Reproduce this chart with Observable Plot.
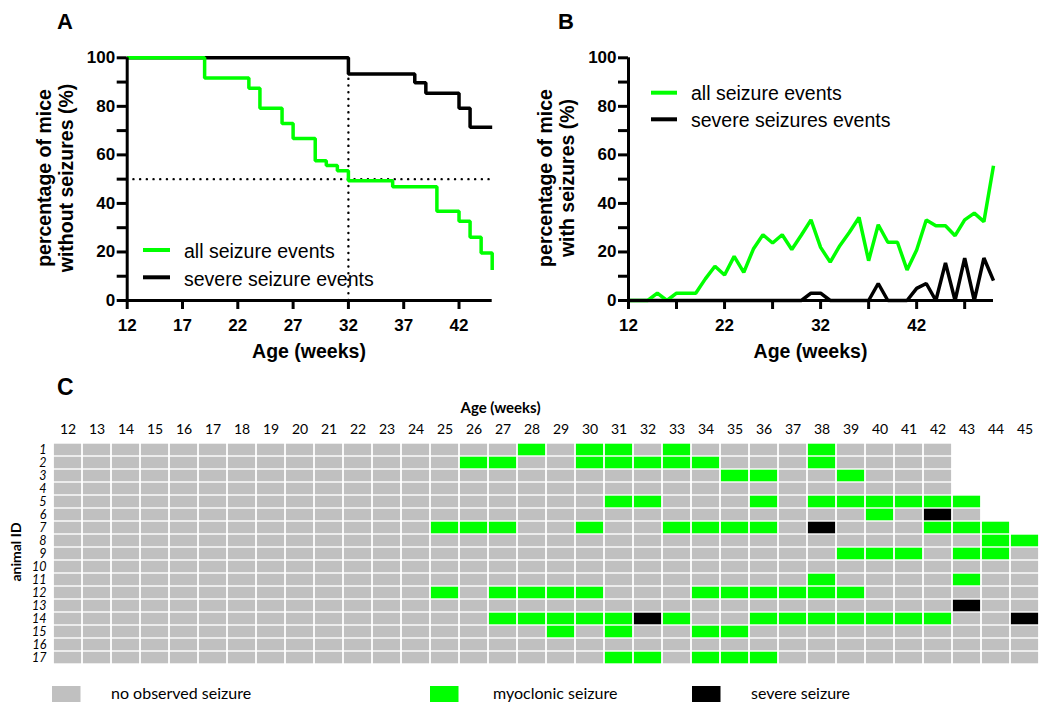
<!DOCTYPE html>
<html><head><meta charset="utf-8">
<script src="https://cdn.jsdelivr.net/npm/d3@7"></script>
<script src="https://cdn.jsdelivr.net/npm/@observablehq/plot@0.6"></script>
<style>
body{margin:0;background:#fff;}
#fig{position:relative;width:1050px;height:710px;overflow:hidden;background:#fff;}
#fig > svg{position:absolute;}
</style></head><body><div id="fig"></div>
<script>
// ---------- Panel A: Kaplan-Meier (percentage of mice without seizures) ----------
const kmWeeksAll = [12,19,23,24,26,27,29,30,31,32,36,40,42,43,44,45];
const kmPctAll   = [100,91.7,87.5,79.2,72.9,66.7,57.6,55.6,53.5,49.3,46.9,36.8,32.7,26.1,19.6,12.6];
const kmWeeksSevere = [12,32,38,39,42,43,45];
const kmPctSevere   = [100,93.3,89.7,85.4,79.2,71.4,71.4];
const medianPct = [50];
const medianWeek = [32];
const ageDomainA = [12,45];
const ageTicksA = [12,17,22,27,32,37,42];
const pctTicks = [0,10,20,30,40,50,60,70,80,90,100];

// ---------- Panel B: percentage of mice with seizures per week ----------
const weeksB = [12,13,14,15,16,17,18,19,20,21,22,23,24,25,26,27,28,29,30,31,32,33,34,35,36,37,38,39,40,41,42,43,44,45,46,47,48,49,50];
const pctAllB = [0,0,0,3,0,3,3,3,8.9,14.1,10.5,18.2,11.6,21.2,27.1,23.7,27.1,21,27,33.2,21.9,15.8,22.6,28.1,34.2,16.4,31.2,24,24,12.6,20.8,33.2,30.8,30.8,26.7,33.2,36,32.5,55.5];
const pctSevereB = [0,0,0,0,0,0,0,0,0,0,0,0,0,0,0,0,0,0,0,3,3,0,0,0,0,0,7,0,0,0,5,7,0,15.5,0,17.5,0,17.5,8.2];
const ageDomainB = [12,50];
const ageTicksB = [12,17,22,27,32,37,42,47];
const ageLabelsB = [12,22,32,42];

// ---------- Panel C: seizure events per animal and week ----------
const weeksC = [12,13,14,15,16,17,18,19,20,21,22,23,24,25,26,27,28,29,30,31,32,33,34,35,36,37,38,39,40,41,42,43,44,45];
const animals = [1,2,3,4,5,6,7,8,9,10,11,12,13,14,15,16,17];
const lastWeek = [42,42,42,42,43,43,44,45,45,45,45,45,45,45,45,45,45];
const myoclonicWeeks = [
  [28,30,31,33,38],
  [26,27,30,31,32,33,34,38],
  [35,36,39],
  [],
  [31,32,36,38,39,40,41,42,43],
  [40],
  [25,26,27,30,33,34,35,36,42,43,44],
  [44,45],
  [39,40,41,43,44],
  [],
  [38,43],
  [25,27,28,29,30,34,35,36,37,38,39],
  [],
  [27,28,29,30,31,33,36,37,38,39,40,41,42],
  [29,31,34,35],
  [],
  [31,32,34,35,36]
];
const severeWeeks = [[],[],[],[],[],[42],[38],[],[],[],[],[],[43],[32,45],[],[],[]];
const stateNames = ["no observed seizure","myoclonic seizure","severe seizure"];

// ---------- styles ----------
const GREEN = "#00ff00", GRAY = "#c0c0c0", BLACK = "#000000";
const FA = "'Liberation Sans', Arial, Helvetica, sans-serif";
const FC = "Lato, 'Open Sans', sans-serif";

const fig = document.getElementById("fig");

const tableA = (w, p) => w.map((d, i) => ({week: d, pct: p[i]}));
const lineStyle = {x: "week", y: "pct", strokeWidth: 3.5, strokeLinejoin: "miter", strokeLinecap: "butt"};
const baseStyle = {fontFamily: FA, fontSize: "17px", fontWeight: "bold", color: "#000", background: "transparent", overflow: "visible"};

// Panel A
const severeAt = kmPctSevere[kmWeeksSevere.findLastIndex(w => w <= medianWeek[0])];
const plotA = Plot.plot({
  width: 520, height: 370,
  marginLeft: 126.7, marginRight: 28.3, marginTop: 57.3, marginBottom: 70,
  x: {domain: ageDomainA, label: null},
  y: {domain: [0, 100], label: null},
  style: baseStyle,
  marks: [
    Plot.ruleY(medianPct, {x1: ageDomainA[0], x2: ageDomainA[1], stroke: "#000", strokeWidth: 2.4, strokeDasharray: "0.1 6.6", strokeLinecap: "round"}),
    Plot.ruleX(medianWeek, {y1: 0, y2: severeAt, stroke: "#000", strokeWidth: 2.4, strokeDasharray: "0.1 6.6", strokeLinecap: "round"}),
    Plot.line(tableA(kmWeeksSevere, kmPctSevere), {...lineStyle, curve: "step-after", stroke: BLACK}),
    Plot.line(tableA(kmWeeksAll, kmPctAll), {...lineStyle, curve: "step-after", stroke: GREEN}),
    Plot.axisY({ticks: pctTicks, tickFormat: d => d % 20 === 0 ? d : "", tickSize: 10, tickPadding: 2, strokeWidth: 3, label: null}),
    Plot.axisX({ticks: ageTicksA, tickSize: 9, tickPadding: 9, strokeWidth: 3, label: null}),
    Plot.ruleY([0], {strokeWidth: 3}),
    Plot.ruleX([ageDomainA[0]], {strokeWidth: 3})
  ]
});
plotA.style.left = "0px"; plotA.style.top = "0px";
fig.appendChild(plotA);

// Panel B
const plotB = Plot.plot({
  width: 530, height: 370,
  marginLeft: 108, marginRight: 57, marginTop: 57.3, marginBottom: 70,
  x: {domain: ageDomainB, label: null},
  y: {domain: [0, 100], label: null},
  style: baseStyle,
  marks: [
    Plot.line(tableA(weeksB, pctSevereB), {...lineStyle, stroke: BLACK}),
    Plot.line(tableA(weeksB, pctAllB), {...lineStyle, stroke: GREEN}),
    Plot.axisY({ticks: pctTicks, tickFormat: d => d % 20 === 0 ? d : "", tickSize: 10, tickPadding: 2, strokeWidth: 3, label: null}),
    Plot.axisX({ticks: ageTicksB, tickFormat: d => ageLabelsB.includes(d) ? d : "", tickSize: 9, tickPadding: 9, strokeWidth: 3, label: null}),
    Plot.ruleY([0], {strokeWidth: 3}),
    Plot.ruleX([ageDomainB[0]], {strokeWidth: 3})
  ]
});
plotB.style.left = "520px"; plotB.style.top = "0px";
fig.appendChild(plotB);

// Panel C
const cells = [];
animals.forEach((a, i) => {
  weeksC.filter(w => w <= lastWeek[i]).forEach(w => {
    const state = severeWeeks[i].includes(w) ? stateNames[2]
                : myoclonicWeeks[i].includes(w) ? stateNames[1] : stateNames[0];
    cells.push({week: w, animal: a, state});
  });
});
const plotC = Plot.plot({
  width: 1050, height: 300,
  marginLeft: 51.5, marginRight: 10.5, marginTop: 56, marginBottom: 9.6,
  x: {type: "band", domain: weeksC, padding: 0, label: null},
  y: {type: "band", domain: animals, padding: 0, label: null},
  color: {type: "ordinal", domain: stateNames, range: [GRAY, GREEN, BLACK]},
  style: {fontFamily: FC, fontSize: "13px", color: "#000", background: "transparent", overflow: "visible"},
  marks: [
    Plot.cell(cells, {x: "week", y: "animal", fill: "state", insetLeft: 0.9, insetRight: 0.9, insetTop: 0.7, insetBottom: 0.7}),
    Plot.axisX({anchor: "top", tickSize: 0, tickPadding: 3, label: null, fontSize: 14}),
    Plot.axisY({anchor: "left", tickSize: 0, tickPadding: 5.5, label: null, fontStyle: "italic", fontSize: 12.5})
  ]
});
plotC.style.left = "0px"; plotC.style.top = "380px";
fig.appendChild(plotC);

// ---------- overlay: titles, panel letters, legends ----------
const ov = d3.select(fig).append("svg").attr("width", 1050).attr("height", 710)
  .style("left", "0px").style("top", "0px").style("pointer-events", "none");
function txt(s, x, y, o = {}) {
  const t = ov.append("text").attr("x", x).attr("y", y)
    .attr("font-family", o.family || FA).attr("font-size", o.size || 19.5)
    .attr("font-weight", o.weight || "normal").attr("text-anchor", o.anchor || "start")
    .attr("font-style", o.italic ? "italic" : "normal").attr("fill", "#000").text(s);
  if (o.rotate) t.attr("transform", `rotate(-90 ${x} ${y})`);
}
// panel letters
txt("A", 57, 28.5, {size: 22, weight: "bold"});
txt("B", 558, 28.5, {size: 22, weight: "bold"});
txt("C", 57, 395, {size: 23, weight: "bold"});
// axis titles A
txt("percentage of mice", 51, 178, {weight: "bold", anchor: "middle", rotate: true});
txt("without seizures (%)", 72.5, 178, {weight: "bold", anchor: "middle", rotate: true});
txt("Age (weeks)", 309, 358, {weight: "bold", anchor: "middle"});
// axis titles B
txt("percentage of mice", 552.3, 178, {weight: "bold", anchor: "middle", rotate: true});
txt("with seizures (%)", 573.8, 178, {weight: "bold", anchor: "middle", rotate: true});
txt("Age (weeks)", 810.5, 358, {weight: "bold", anchor: "middle"});
// legends A and B
function legLine(x1, x2, y, c) {
  ov.append("line").attr("x1", x1).attr("x2", x2).attr("y1", y).attr("y2", y)
    .attr("stroke", c).attr("stroke-width", 4);
}
legLine(143, 170, 250, GREEN); txt("all seizure events", 184, 258);
legLine(143, 170, 277.3, BLACK); txt("severe seizure events", 184, 286);
legLine(651, 677, 92.7, GREEN); txt("all seizure events", 691, 100);
legLine(651, 677, 119.3, BLACK); txt("severe seizures events", 691, 126.7);
// panel C titles
txt("Age (weeks)", 500.5, 413, {family: FC, size: 15, weight: "bold", anchor: "middle"});
txt("animal ID", 20.5, 552, {family: FC, size: 14, weight: "bold", anchor: "middle", rotate: true});
// panel C legend
const legC = [[52, GRAY, 111], [430, GREEN, 493], [692, BLACK, 751]];
legC.forEach(([x, c, tx], i) => {
  ov.append("rect").attr("x", x).attr("y", 686).attr("width", 28.5).attr("height", 16).attr("fill", c);
  txt(stateNames[i], tx, 699, {family: FC, size: 16});
});
</script></body></html>
